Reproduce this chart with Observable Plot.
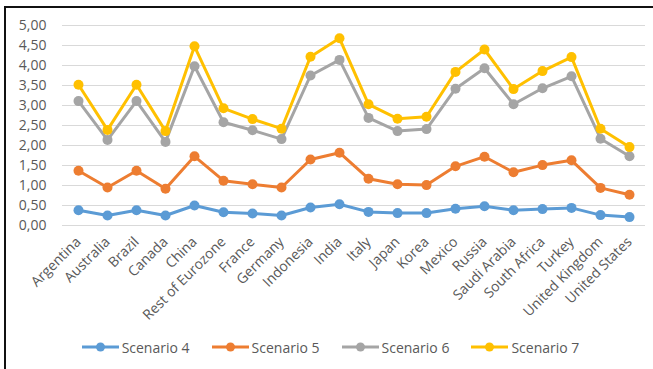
<!DOCTYPE html>
<html>
<head>
<meta charset="utf-8">
<script src="https://cdn.jsdelivr.net/npm/d3@7"></script>
<script src="https://cdn.jsdelivr.net/npm/@observablehq/plot@0.6"></script>
<style>
  html, body { margin: 0; padding: 0; background: #fff; }
  #wrap { position: relative; width: 653px; height: 369px; overflow: hidden; font-family: "Open Sans", sans-serif; }
  #border { position: absolute; left: 4px; top: 6px; right: -10px; bottom: -10px;
            border-top: 2px solid #111; border-left: 2px solid #111; pointer-events: none; }
  #chart { position: absolute; left: 0; top: 0; }
  #legend { position: absolute; left: 0; top: 334px; width: 653px; height: 26px;
            display: flex; justify-content: center; align-items: center; gap: 22px;
            font-size: 14px; color: #595959; padding-left: 8px; box-sizing: border-box; }
  .item { display: flex; align-items: center; gap: 3px; }
</style>
</head>
<body>
<div id="wrap">
  <div id="chart"></div>
  <div id="legend"></div>
  <div id="border"></div>
</div>
<script>
// Categories along the x axis
const countries = ["Argentina", "Australia", "Brazil", "Canada", "China", "Rest of Eurozone",
  "France", "Germany", "Indonesia", "India", "Italy", "Japan", "Korea", "Mexico", "Russia",
  "Saudi Arabia", "South Africa", "Turkey", "United Kingdom", "United States"];

// One value per country for each scenario
const scenario4 = [0.38, 0.25, 0.38, 0.25, 0.50, 0.33, 0.30, 0.25, 0.45, 0.53,
  0.34, 0.31, 0.31, 0.42, 0.48, 0.38, 0.41, 0.44, 0.26, 0.21];
const scenario5 = [1.37, 0.95, 1.37, 0.92, 1.73, 1.12, 1.03, 0.95, 1.65, 1.82,
  1.17, 1.03, 1.01, 1.48, 1.72, 1.33, 1.51, 1.63, 0.94, 0.77];
const scenario6 = [3.11, 2.14, 3.11, 2.09, 3.98, 2.58, 2.38, 2.16, 3.75, 4.14,
  2.69, 2.36, 2.41, 3.42, 3.93, 3.03, 3.43, 3.73, 2.17, 1.73];
const scenario7 = [3.52, 2.39, 3.52, 2.36, 4.48, 2.93, 2.66, 2.42, 4.22, 4.68,
  3.03, 2.67, 2.72, 3.84, 4.40, 3.41, 3.86, 4.21, 2.42, 1.96];

const seriesNames = ["Scenario 4", "Scenario 5", "Scenario 6", "Scenario 7"];
const seriesValues = [scenario4, scenario5, scenario6, scenario7];
const seriesColors = ["#5B9BD5", "#ED7D31", "#A5A5A5", "#FFC000"];

// y tick values
const yTicks = [0, 0.5, 1, 1.5, 2, 2.5, 3, 3.5, 4, 4.5, 5];

// Long-format table: one row per (scenario, country)
const rows = seriesNames.flatMap((name, i) =>
  countries.map((c, j) => ({series: name, country: c, value: seriesValues[i][j]})));

const fmt = d => d.toFixed(2).replace(".", ",");

const chart = Plot.plot({
  width: 653,
  height: 334,
  marginLeft: 62,
  marginRight: 8,
  marginTop: 25,
  marginBottom: 109,
  style: {fontFamily: "Open Sans, sans-serif", fontSize: "14px", color: "#595959", background: "transparent"},
  x: {type: "point", domain: countries, padding: 0.5, label: null},
  y: {domain: [0, 5], label: null},
  color: {domain: seriesNames, range: seriesColors},
  marks: [
    Plot.gridY(yTicks, {stroke: "#d9d9d9", strokeOpacity: 1, strokeWidth: 1}),
    Plot.axisY(yTicks, {tickSize: 0, tickPadding: 16, tickFormat: fmt, fill: "#595959", fontSize: 14}),
    Plot.axisX({tickSize: 0, tickPadding: 14, tickRotate: -45, fill: "#595959", fontSize: 14}),
    Plot.line(rows, {x: "country", y: "value", z: "series", stroke: "series",
      strokeWidth: 3, strokeLinejoin: "round", strokeLinecap: "round"}),
    Plot.dot(rows, {x: "country", y: "value", fill: "series", r: 5, stroke: "none"})
  ]
});
document.getElementById("chart").appendChild(chart);

// Legend: line-with-marker swatch followed by the series name
const legend = d3.select("#legend");
seriesNames.forEach((name, i) => {
  const item = legend.append("div").attr("class", "item");
  const sw = item.append("svg").attr("width", 37).attr("height", 12);
  sw.append("line").attr("x1", 0).attr("x2", 37).attr("y1", 6).attr("y2", 6)
    .attr("stroke", seriesColors[i]).attr("stroke-width", 3);
  sw.append("circle").attr("cx", 18.5).attr("cy", 6).attr("r", 4.5).attr("fill", seriesColors[i]);
  item.append("span").text(name);
});
</script>
</body>
</html>
